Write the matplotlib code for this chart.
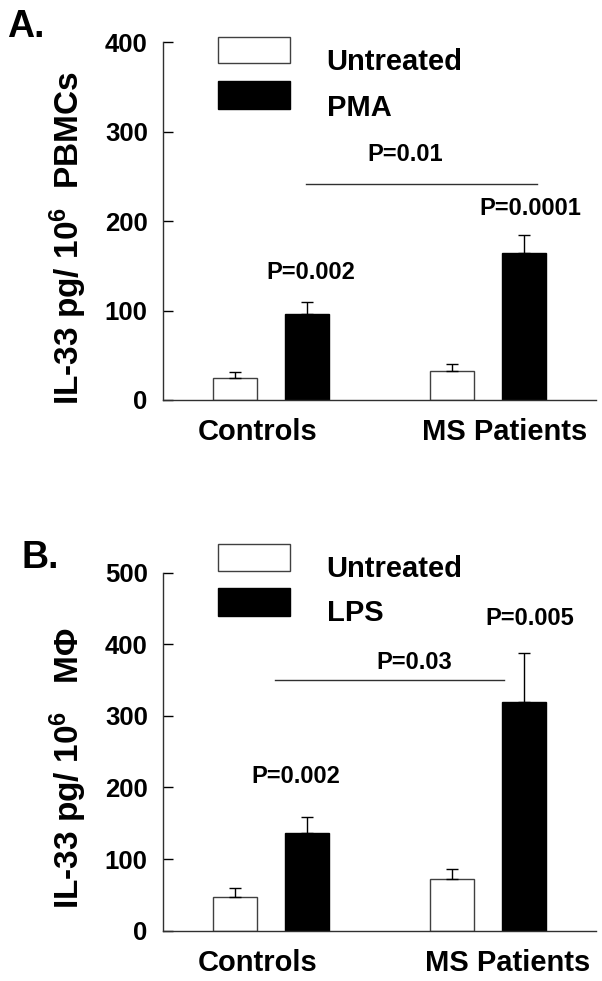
import numpy as np
import matplotlib
matplotlib.use("Agg")
import matplotlib.pyplot as plt
from matplotlib.patches import Rectangle

plt.rcParams['font.family'] = ['Liberation Sans', 'DejaVu Sans']
plt.rcParams['font.weight'] = 'bold'
plt.rcParams['mathtext.fontset'] = 'custom'
plt.rcParams['mathtext.default'] = 'regular'

groups = ['Controls', 'MS Patients']

# panel A: PBMCs
a_untreated = [25, 32]
a_untreated_err = [6, 8]
a_pma = [96, 164]
a_pma_err = [13, 20]

# panel B: macrophages
b_untreated = [47, 72]
b_untreated_err = [12, 14]
b_lps = [136, 320]
b_lps_err = [23, 68]

fig = plt.figure(figsize=(6.02, 9.81), dpi=100)
axA = fig.add_axes([0.2708, 0.5923, 0.7193, 0.3646])
axB = fig.add_axes([0.2708, 0.0513, 0.7193, 0.3650])

x = np.arange(len(groups))
w = 0.203
off = 0.166


def draw_panel(ax, untreated, u_err, treated, t_err, ymax, ylabel, treat_name,
               leg_y, label_x_off):
    ekw = dict(ecolor='black', elinewidth=1.0, capsize=4, capthick=1.0)
    ax.bar(x - off, untreated, w, color='white', edgecolor='#404040', linewidth=1.0,
           yerr=[np.zeros(len(u_err)), u_err], error_kw=ekw, zorder=2)
    ax.bar(x + off, treated, w, color='black', edgecolor='black', linewidth=1.0,
           yerr=[np.zeros(len(t_err)), t_err], error_kw=ekw, zorder=2)
    ax.set_xlim(-0.5, 1.5)
    ax.set_ylim(0, ymax)
    ax.set_yticks(np.arange(0, ymax + 1, 100))
    ax.spines['top'].set_visible(False)
    ax.spines['right'].set_visible(False)
    for s in ['left', 'bottom']:
        ax.spines[s].set_linewidth(1.0)
        ax.spines[s].set_color('#303030')
    ax.tick_params(axis='y', direction='in', length=7, width=1, pad=11,
                   labelsize=18.5)
    ax.tick_params(axis='x', length=0, pad=13, labelsize=21)
    ax.set_xticks(x + np.array(label_x_off))
    ax.set_xticklabels(groups, fontweight='bold')
    for t in ax.get_yticklabels():
        t.set_fontweight('bold')
    ax.set_ylabel(ylabel, fontsize=24, fontweight='bold')
    ax.yaxis.set_label_coords(-0.172, 0.454)

    # legend boxes
    ax.add_patch(Rectangle((0.127, leg_y[0]), 0.166, 0.073, transform=ax.transAxes,
                           facecolor='white', edgecolor='#404040', lw=1.0, clip_on=False))
    ax.add_patch(Rectangle((0.127, leg_y[1]), 0.166, 0.077, transform=ax.transAxes,
                           facecolor='black', edgecolor='black', lw=1.0, clip_on=False))
    ax.text(0.378, leg_y[2], 'Untreated', transform=ax.transAxes, fontsize=21,
            fontweight='bold', va='center', ha='left')
    ax.text(0.378, leg_y[3], treat_name, transform=ax.transAxes, fontsize=21,
            fontweight='bold', va='center', ha='left')


draw_panel(axA, a_untreated, a_untreated_err, a_pma, a_pma_err, 400,
           r'IL-33 pg/ 10$^{6}$  PBMCs', 'PMA', [0.941, 0.8135, 0.945, 0.816],
           [-0.061, 1.077 - 1])
draw_panel(axB, b_untreated, b_untreated_err, b_lps, b_lps_err, 500,
           r'IL-33 pg/ 10$^{6}$   M$\Phi$', 'LPS', [1.0056, 0.880, 1.009, 0.888],
           [-0.061, 1.092 - 1])

# significance annotations
axA.plot([0.162, 1.226], [242, 242], color='#303030', lw=1.0)
axA.text(0.62, 274, 'P=0.01', ha='center', va='center', fontsize=17, fontweight='bold')
axA.text(0.182, 143, 'P=0.002', ha='center', va='center', fontsize=17, fontweight='bold')
axA.text(1.197, 214, 'P=0.0001', ha='center', va='center', fontsize=17, fontweight='bold')

axB.plot([0.016, 1.077], [350, 350], color='#303030', lw=1.0)
axB.text(0.659, 374, 'P=0.03', ha='center', va='center', fontsize=17, fontweight='bold')
axB.text(0.112, 215, 'P=0.002', ha='center', va='center', fontsize=17, fontweight='bold')
axB.text(1.195, 436, 'P=0.005', ha='center', va='center', fontsize=17, fontweight='bold')

fig.text(0.0116, 0.9623, 'A.', fontsize=27, fontweight='bold', va='baseline')
fig.text(0.035, 0.421, 'B.', fontsize=27, fontweight='bold', va='baseline')

fig.savefig('out.png', dpi=100)
